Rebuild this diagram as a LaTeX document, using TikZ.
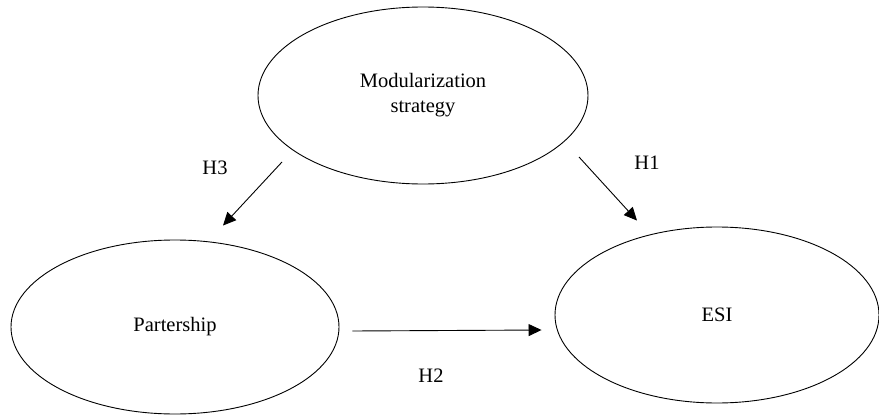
\documentclass[tikz,border=0pt]{standalone}
\usepackage{fontspec}
\setmainfont{Liberation Serif}
\usetikzlibrary{shapes.geometric,arrows.meta}
\begin{document}
\begin{tikzpicture}[x=1pt,y=-1pt,
  construct/.style={draw=black,line width=0.9pt,ellipse,inner sep=0pt,align=center,
    font=\fontsize{20.5}{25}\selectfont},
  hyp/.style={font=\fontsize{20.5}{25}\selectfont,inner sep=0pt},
  arr/.style={line width=0.9pt,-{Triangle[length=13pt,width=12pt]}}]
\useasboundingbox (0,0) rectangle (879,415);
\node[construct,minimum width=330pt,minimum height=177pt] (M) at (423,95.5) {Modularization\\strategy};
\node[construct,minimum width=328pt,minimum height=174pt] (P) at (175,327) {Partership};
\node[construct,minimum width=324pt,minimum height=176pt] (E) at (717,315) {ESI};
\draw[arr] ([shift={(-141,66.5)}]M.center) -- ([shift={(48,-14)}]P.north);
\draw[arr] ([shift={(156,61.5)}]M.center) -- ([shift={(-80,-6)}]E.north);
\draw[arr] ([shift={(13,4)}]P.east) -- ([shift={(-13,15)}]E.west);
\node[hyp] (h3) at (215,168) {H3};
\node[hyp] (h1) at (647,163) {H1};
\node[hyp] (h2) at (431,376) {H2};
\end{tikzpicture}
\end{document}
